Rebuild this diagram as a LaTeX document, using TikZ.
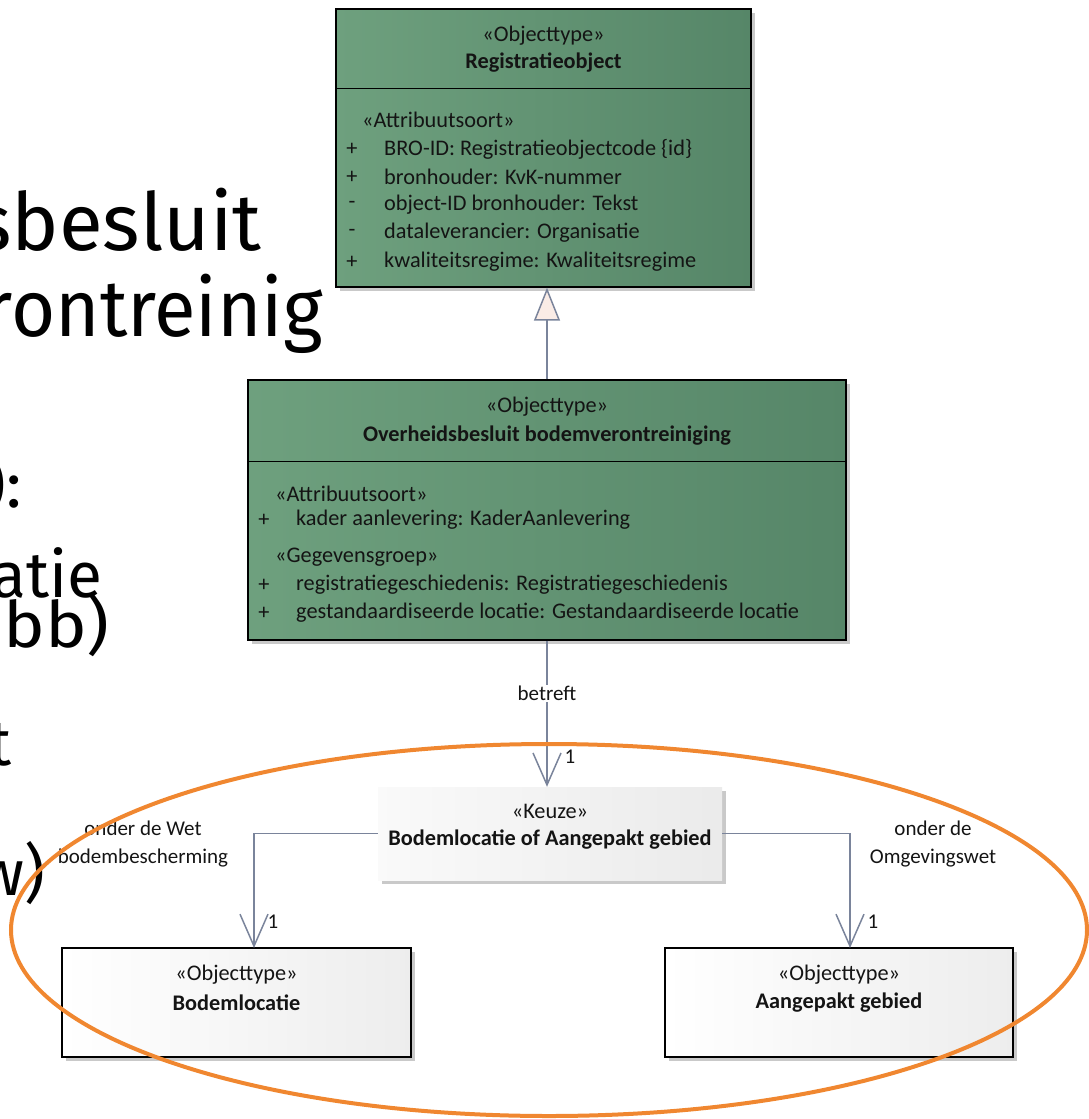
\documentclass[tikz,border=0pt]{standalone}
\usepackage{fontspec}
\setmainfont{Carlito}
\newfontfamily\bigfont{Fira Sans}
\usetikzlibrary{arrows.meta,shadows,calc}
\definecolor{grnA}{RGB}{110,160,126}
\definecolor{grnB}{RGB}{86,134,104}
\definecolor{conn}{RGB}{122,132,155}
\definecolor{orng}{RGB}{240,135,48}
\definecolor{trifill}{RGB}{250,236,230}
\definecolor{txt}{RGB}{20,20,20}
\newcommand{\dfont}{\fontsize{22.3pt}{26pt}\selectfont}
\newcommand{\lfont}{\fontsize{21pt}{28pt}\selectfont}
\begin{document}
\begin{tikzpicture}[x=1pt,y=-1pt,
  shad/.style={drop shadow={shadow xshift=4pt,shadow yshift=-4pt,fill=black!30,opacity=0.7}},
  greenbox/.style={draw=black,line width=1.3pt,left color=grnA,right color=grnB,rectangle,inner sep=0pt,shad},
  whitebox/.style={draw=black,line width=1.3pt,left color=white,right color=black!7,rectangle,inner sep=0pt,shad},
  choicebox/.style={draw=none,left color=black!2,right color=black!8,rectangle,inner sep=0pt,shad},
  sep/.style={draw=black,line width=1.3pt},
  ctext/.style={font=\dfont,text=txt,inner sep=0pt},
  ltext/.style={font=\dfont,text=txt,inner sep=0pt,anchor=west},
  btext/.style={font=\dfont\bfseries,text=txt,inner sep=0pt},
  lbl/.style={font=\lfont,text=txt,inner sep=1pt,align=center},
  assoc/.style={draw=conn,line width=1.5pt,-{Straight Barb[length=32pt,width=28pt]}},
  genarrow/.style={draw=conn,line width=1.5pt,-{Triangle[length=33pt,width=26pt,fill=trifill]}},
  bigtxt/.style={text=black,inner sep=0pt,anchor=base east},
  oval/.style={draw=orng,line width=4pt}
]
\useasboundingbox (0,0) rectangle (1088,1119);

% background slide text (cut off at the left)
\begin{scope}
\clip (0,0) rectangle (1088,1119);
\node[bigtxt,font=\bigfont\fontsize{80pt}{80pt}\selectfont] (bt1) at (262,250) {sbesluit};
\node[bigtxt,font=\bigfont\fontsize{80pt}{80pt}\selectfont] (bt2) at (323,336) {\scalebox{0.95}[1]{rontreinig}};
\node[bigtxt,font=\bigfont\fontsize{64pt}{64pt}\selectfont] (bt3) at (22,507) {):};
\node[bigtxt,font=\bigfont\fontsize{64pt}{64pt}\selectfont] (bt4) at (103,597) {atie};
\node[bigtxt,font=\bigfont\fontsize{64pt}{64pt}\selectfont] (bt5) at (110,647) {\scalebox{1.1}[1]{bb)}};
\node[bigtxt,font=\bigfont\fontsize{64pt}{64pt}\selectfont] (bt6) at (12,765) {t};
\node[bigtxt,font=\bigfont\fontsize{64pt}{64pt}\selectfont] (bt7) at (45,895) {w)};
\end{scope}

% Registratieobject
\node[greenbox,minimum width=415pt,minimum height=278pt] (r1) at (543.5,148) {};
\draw[sep] ($(r1.north west)+(0,80)$) -- ($(r1.north east)+(0,80)$);
\node[ctext] (r1s) at (543.5,36) {«Objecttype»};
\node[btext] (r1n) at (543.5,63) {Registratieobject};
\node[ltext] (r1a) at (362,120) {«Attribuutsoort»};
\node[ctext] (r1p1) at (352,149) {+};
\node[ltext] (r1t1) at (384,149) {BRO-ID: Registratieobjectcode \{id\}};
\node[ctext] (r1p2) at (352,177) {+};
\node[ltext] (r1t2) at (384,177) {bronhouder: KvK-nummer};
\node[ctext] (r1p3) at (352,205) {-};
\node[ltext] (r1t3) at (384,205) {object-ID bronhouder: Tekst};
\node[ctext] (r1p4) at (352,233) {-};
\node[ltext] (r1t4) at (384,233) {dataleverancier: Organisatie};
\node[ctext] (r1p5) at (352,262) {+};
\node[ltext] (r1t5) at (384,262) {kwaliteitsregime: Kwaliteitsregime};

% Overheidsbesluit bodemverontreiniging
\node[greenbox,minimum width=598pt,minimum height=260pt] (r2) at (547,510) {};
\draw[sep] ($(r2.north west)+(0,82)$) -- ($(r2.north east)+(0,82)$);
\node[ctext] (r2s) at (547,407) {«Objecttype»};
\node[btext] (r2n) at (547,436) {Overheidsbesluit bodemverontreiniging};
\node[ltext] (r2a) at (275,494) {«Attribuutsoort»};
\node[ctext] (r2p1) at (264,520) {+};
\node[ltext] (r2t1) at (296,520) {kader aanlevering: KaderAanlevering};
\node[ltext] (r2g) at (275,557) {«Gegevensgroep»};
\node[ctext] (r2p2) at (264,585) {+};
\node[ltext] (r2t2) at (296,585) {registratiegeschiedenis: Registratiegeschiedenis};
\node[ctext] (r2p3) at (264,613) {+};
\node[ltext] (r2t3) at (296,613) {gestandaardiseerde locatie: Gestandaardiseerde locatie};

% Keuze
\node[choicebox,minimum width=344pt,minimum height=93pt] (k) at (550,833.5) {};
\node[ctext] (ks) at (550,811) {«Keuze»};
\node[btext] (kn) at (550,840) {Bodemlocatie of Aangepakt gebied};

% Bodemlocatie
\node[whitebox,minimum width=349pt,minimum height=109pt] (bl) at (236.5,1002.5) {};
\node[ctext] (bls) at (236.5,975) {«Objecttype»};
\node[btext] (bln) at (236.5,1003) {Bodemlocatie};

% Aangepakt gebied
\node[whitebox,minimum width=348pt,minimum height=109pt] (ag) at (839,1002.5) {};
\node[ctext] (ags) at (839,975) {«Objecttype»};
\node[btext] (agn) at (839,1003) {Aangepakt gebied};

% connectors
\draw[genarrow] (r2.north) -- (r2.north |- r1.south);
\draw[assoc] (r2.south) -- node[lbl,fill=white,pos=0.36] (lb1) {betreft} (r2.south |- k.north);
\node[lbl] (m1) at (570,757) {1};

\coordinate (lc) at (254,948);
\coordinate (rc) at (850,948);
\draw[assoc] (k.west) -| (lc);
\draw[assoc] (k.east) -| (rc);
\node[lbl] (m2) at (273,922) {1};
\node[lbl] (m3) at (873,922) {1};
\node[lbl] (lw) at (143,844) {onder de Wet\\bodembescherming};
\node[lbl] (ro) at (933,844) {onder de\\Omgevingswet};

% orange ellipse
\draw[oval] (549,930) ellipse [x radius=538, y radius=186];
\end{tikzpicture}
\end{document}
